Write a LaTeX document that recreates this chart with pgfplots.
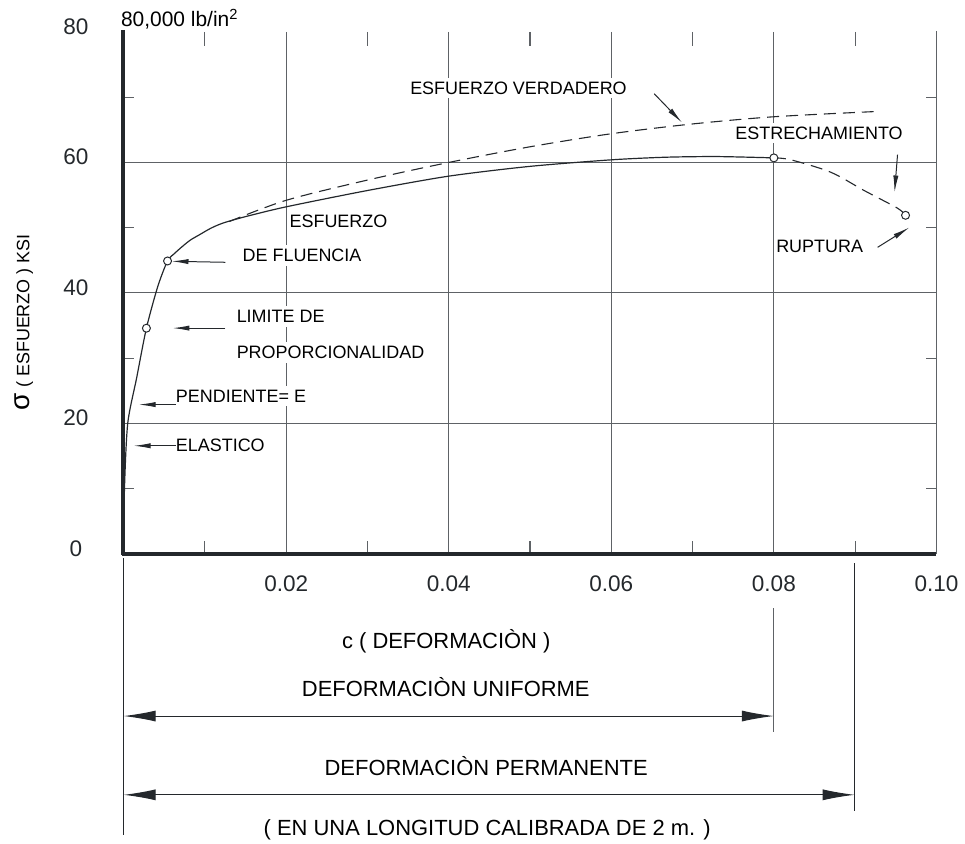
\documentclass[border=0pt]{standalone}
\usepackage{pgfplots}
\pgfplotsset{compat=1.18}
\usepackage{fontspec}
\setmainfont{Liberation Sans}
\usetikzlibrary{arrows.meta}
\definecolor{ink}{HTML}{24282C}
\definecolor{gridc}{HTML}{5E6266}
\begin{document}
\begin{tikzpicture}[font=\color{ink}]
\begin{scope}[x=0.5pt,y=-0.5pt]
\useasboundingbox (0,0) rectangle (965,846);
\foreach \gx in {287,450,613,776} \draw[gridc, line width=0.55pt] (\gx,32) -- (\gx,555);
\foreach \gy in {162.9,293.7,424.6} \draw[gridc, line width=0.55pt] (123,\gy) -- (939,\gy);
\draw[gridc, line width=0.6pt] (939,31) -- (939,555.5);
\foreach \tx in {205.5,368.5,531.5,694.5,857.5} {\draw[gridc,line width=0.55pt] (\tx,32) -- (\tx,46); \draw[gridc,line width=0.55pt] (\tx,555) -- (\tx,542);}
\foreach \ty in {490.1,359.2,228.3,97.4} {\draw[gridc,line width=0.55pt] (123,\ty) -- (134,\ty); \draw[gridc,line width=0.55pt] (939,\ty) -- (929,\ty);}
\end{scope}

\begin{axis}[at={(62pt,-277.75pt)}, anchor=south west, scale only axis,
  width=407.5pt, height=261.75pt,
  xmin=0, xmax=0.1, ymin=0, ymax=80, clip=false,
  axis line style={draw=none}, tick style={draw=none}, major tick length=0pt,
  xtick={0.02,0.04,0.06,0.08,0.1}, xticklabels={0.02,0.04,0.06,0.08,0.10},
  ytick={0,20,40,60,80}, yticklabels={0,20,40,60,80},
  xticklabel style={anchor=center, yshift=-14.75pt},
  yticklabel style={anchor=center, xshift=-24pt, yshift=2.75pt},
  tick label style={font=\fontsize{11.3}{13}\selectfont, text=ink},
  /pgf/number format/assume math mode=true]
% engineering stress-strain curve
\addplot[ink, line width=0.6pt, smooth, tension=0.45] coordinates {
(0,0) (0.0001,10) (0.0005,20) (0.0016,27.0) (0.0028,34.6) (0.0042,41.0)
(0.0054,44.9) (0.0063,46.1) (0.0072,47.1) (0.0082,48.1) (0.0093,48.9)
(0.0107,49.9) (0.0122,50.7) (0.015,51.7) (0.02,53.2) (0.03,55.7)
(0.04,57.9) (0.05,59.4) (0.06,60.4) (0.0667,60.8) (0.073,60.9) (0.08,60.7)};
% true stress
\addplot[ink, line width=0.55pt, dash pattern=on 6pt off 3.5pt, smooth] coordinates {
(0.013,50.95) (0.02,54.2) (0.03,57.3) (0.04,60.0) (0.05,62.4) (0.06,64.4)
(0.07,65.9) (0.08,67.0) (0.0925,67.8)};
% necking
\addplot[ink, line width=0.55pt, dash pattern=on 6pt off 3.5pt, smooth] coordinates {
(0.08,60.7) (0.0821,60.4) (0.087,58.5) (0.0911,55.7) (0.0952,53.0) (0.0962,51.9)};
% points
\addplot[only marks, mark=*, mark size=2pt, mark options={fill=white, draw=ink, line width=0.5pt}] coordinates {
(0.0028,34.6) (0.0054,44.9) (0.08,60.7) (0.0962,51.9)};
\end{axis}

\begin{scope}[x=0.5pt,y=-0.5pt]
% axes
\draw[ink, line width=2pt] (123,30) -- (123,557);
\draw[ink, line width=1.8pt] (122,555.5) -- (939,555.5);
% annotations
\tikzset{lab/.style={anchor=base west, fill=white, inner xsep=1pt, inner ysep=2pt, font=\fontsize{9}{11}\selectfont},
  ann/.style={ink, line width=0.5pt, -{Latex[length=8.5pt,width=2.6pt]}}}
\node[lab] at (409,94.5) {ESFUERZO VERDADERO};
\node[lab] at (735,139.5) {ESTRECHAMIENTO};
\node[lab] at (776,253.5) {RUPTURA};
\node[lab] at (288,228.5) {ESFUERZO};
\node[lab] at (241,262.5) {DE FLUENCIA};
\node[lab] at (235,323.5) {LIMITE DE};
\node[lab] at (235,359.5) {PROPORCIONALIDAD};
\node[lab] at (174,403.5) {PENDIENTE= E};
\node[lab] at (174,452.5) {ELASTICO};
\draw[ann] (656,94) -- (684,123);
\draw[ann] (900,155) -- (897,193);
\draw[ann] (880,248) -- (912,228);
\draw[ann] (226,263) -- (172,262);
\draw[ann] (226,329) -- (173,329);
\draw[ann] (176,405.7) -- (139,405.7);
\draw[ann] (176,447) -- (134,447);
% top label
\node[anchor=base west, inner sep=0pt, font=\fontsize{10.5}{12}\selectfont] at (121,27) {80,000 lb/in\textsuperscript{2}};
% y label
\node[rotate=90, font=\fontsize{9}{10}\selectfont] at (24,323) {{\fontsize{14}{14}\selectfont σ} ( ESFUERZO ) KSI};
% x label and dimension lines
\tikzset{big/.style={anchor=base, inner sep=0pt, font=\fontsize{11}{13}\selectfont},
  dim/.style={ink, line width=0.5pt, {Latex[length=16pt,width=5.5pt]}-{Latex[length=16pt,width=5.5pt]}}}
\node[big] at (447.5,650) {c ( DEFORMACIÒN )};
\node[big] at (447,698.3) {DEFORMACIÒN UNIFORME};
\node[big] at (487.5,778) {DEFORMACIÒN PERMANENTE};
\node[big] at (488.5,838) {( EN UNA LONGITUD CALIBRADA DE 2 m. )};
\draw[ink, line width=0.5pt] (124,560) -- (124,837);
\draw[gridc, line width=0.5pt] (776,610) -- (776,734);
\draw[ink, line width=0.5pt] (857,565) -- (857,813);
\draw[dim] (124,718) -- (776,718);
\draw[dim] (124,797) -- (857,797);
\end{scope}
\end{tikzpicture}
\end{document}
